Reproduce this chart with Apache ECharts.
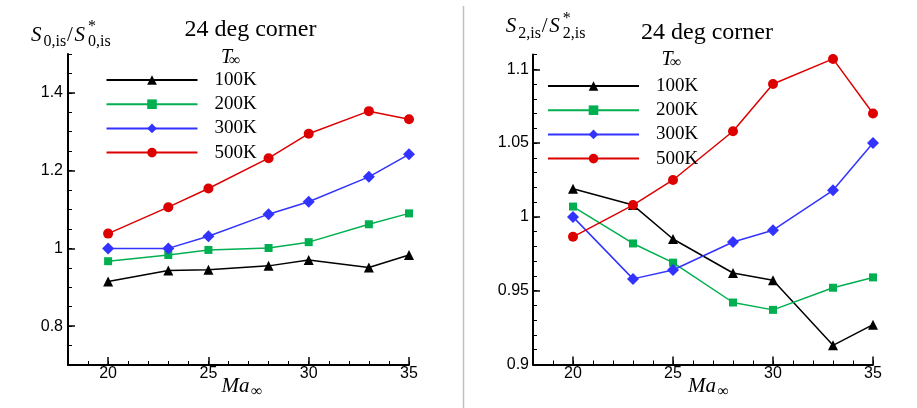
<!DOCTYPE html>
<html>
<head>
<meta charset="utf-8">
<script src="https://cdn.jsdelivr.net/npm/echarts@6/dist/echarts.min.js"></script>
<style>
  html, body { margin: 0; padding: 0; background: #fff; }
  #main { width: 917px; height: 408px; }
</style>
</head>
<body>
<div id="main"></div>
<script>
// Mach numbers (x axis)
var machNumbers = [20, 23, 25, 28, 30, 33, 35];
var tempLabels = ['100K', '200K', '300K', '500K'];

// left chart: S0,is / S*0,is
var s0_100K = [0.915, 0.943, 0.945, 0.955, 0.970, 0.951, 0.983];
var s0_200K = [0.967, 0.983, 0.996, 1.001, 1.016, 1.062, 1.090];
var s0_300K = [1.000, 1.000, 1.031, 1.088, 1.120, 1.184, 1.242];
var s0_500K = [1.038, 1.106, 1.154, 1.232, 1.295, 1.353, 1.332];

// right chart: S2,is / S*2,is
var s2_100K = [1.019, 1.008, 0.985, 0.962, 0.957, 0.913, 0.927];
var s2_200K = [1.007, 0.982, 0.969, 0.942, 0.937, 0.952, 0.959];
var s2_300K = [1.000, 0.958, 0.964, 0.983, 0.991, 1.018, 1.050];
var s2_500K = [0.9865, 1.008, 1.025, 1.058, 1.090, 1.107, 1.070];

// tick labels
var xTickValues = [20, 25, 30, 35];
var s0TickValues = [0.8, 1, 1.2, 1.4];
var s2TickValues = [0.9, 0.95, 1, 1.05, 1.1];

var lineColors = ['#000000', '#00b050', '#3333ff', '#dd0000'];
var markerShapes = ['triangle', 'rect', 'diamond', 'circle'];
var markerSizes = [10, 8, 12, 10];

var SERIF = '"Liberation Serif", "Times New Roman", serif';
var SANS = '"Liberation Sans", Arial, sans-serif';

function minorX(grid) {
	return {
		type: 'value', gridIndex: grid, min: 18, max: 35, interval: 1,
		axisLine: {lineStyle: {color: '#000', width: 2}},
		axisTick: {inside: true, length: 4, lineStyle: {color: '#000', width: 1}},
		axisLabel: {customValues: xTickValues, margin: 1, color: '#000', fontFamily: SANS, fontSize: 16},
		splitLine: {show: false}
	};
}
function majorX(grid) {
	return {
		type: 'value', gridIndex: grid, position: 'bottom', min: 18, max: 35,
		axisLine: {show: false},
		axisTick: {inside: true, length: 8, customValues: xTickValues, lineStyle: {color: '#000', width: 1.5}},
		axisLabel: {show: false},
		splitLine: {show: false}
	};
}
function minorY(grid, min, max, step, labels, margin) {
	return {
		type: 'value', gridIndex: grid, min: min, max: max, interval: step,
		axisLine: {show: true, lineStyle: {color: '#000', width: 2}},
		axisTick: {show: true, inside: true, length: 4, lineStyle: {color: '#000', width: 1}},
		axisLabel: {customValues: labels, margin: margin, color: '#000', fontFamily: SANS, fontSize: 16},
		splitLine: {show: false}
	};
}
function majorY(grid, min, max, labels) {
	return {
		type: 'value', gridIndex: grid, position: 'left', min: min, max: max,
		axisLine: {show: false},
		axisTick: {show: true, inside: true, length: 7, customValues: labels, lineStyle: {color: '#000', width: 1.5}},
		axisLabel: {show: false},
		splitLine: {show: false}
	};
}

function makeSeries(chart, valueSets) {
	var out = [];
	for (var i = 0; i < valueSets.length; i++) {
		var vals = valueSets[i];
		out.push({
			name: tempLabels[i],
			type: 'line',
			xAxisIndex: chart * 2,
			yAxisIndex: chart * 2,
			data: machNumbers.map(function (m, k) { return [m, vals[k]]; }),
			symbol: markerShapes[i],
			symbolSize: markerSizes[i],
			itemStyle: {color: lineColors[i]},
			lineStyle: {color: lineColors[i], width: 1.5},
			z: 3
		});
	}
	return out;
}

//text piece for graphic, y = middle of the em box
function txt(x, y, text, size, italic, align) {
	return {
		type: 'text',
		style: {
			x: x, y: y, text: text,
			font: (italic ? 'italic ' : '') + size + 'px ' + SERIF,
			fill: '#000',
			align: align || 'left', textAlign: align || 'left',
			verticalAlign: 'middle', textVerticalAlign: 'middle'
		}
	};
}
// S_{n,is}/S*_{n,is}
function ratioName(x, y, sub) {
	return [
		txt(x, y, 'S', 21, true),
		txt(x + 12.5, y + 6.7, sub, 16, false),
		txt(x + 36, y, '/', 21, false),
		txt(x + 43.5, y, 'S', 21, true),
		txt(x + 57, y - 8.5, '*', 16, false),
		txt(x + 57, y + 6.7, sub, 16, false)
	];
}

var legendBase = {
	orient: 'vertical',
	data: tempLabels,
	padding: 0,
	itemWidth: 91,
	itemHeight: 12,
	itemGap: 5.2,
	textStyle: {fontFamily: SERIF, fontSize: 19, color: '#000', padding: [0, 0, 0, 12]}
};

var myChart = echarts.init(document.getElementById('main'), null, {renderer: 'canvas'});
var option = {
	animation: false,
	backgroundColor: '#fff',
	grid: [
		{left: 68, top: 54, width: 341, height: 311},
		{left: 533, top: 54.5, width: 340, height: 310}
	],
	xAxis: [minorX(0), majorX(0), minorX(1), majorX(1)],
	yAxis: [
		minorY(0, 0.7, 1.5, 0.05, s0TickValues, 5),
		majorY(0, 0.7, 1.5, s0TickValues),
		minorY(1, 0.9, 1.11, 0.01, s2TickValues, 4),
		majorY(1, 0.9, 1.11, s2TickValues)
	],
	legend: [
		Object.assign({left: 105.5, top: 70.5}, legendBase),
		Object.assign({left: 547, top: 76.5}, legendBase)
	],
	series: makeSeries(0, [s0_100K, s0_200K, s0_300K, s0_500K])
		.concat(makeSeries(1, [s2_100K, s2_200K, s2_300K, s2_500K])),
	graphic: [
		{type: 'line', shape: {x1: 463.5, y1: 6, x2: 463.5, y2: 408}, style: {stroke: '#c0c0c0', lineWidth: 1.5}},
		txt(250.5, 29.7, '24 deg corner', 24, false, 'center'),
		txt(707, 33, '24 deg corner', 24, false, 'center'),
		txt(221, 57.7, 'T', 20, true),
		txt(229, 61, '\u221e', 16, false),
		txt(661.5, 60.2, 'T', 20, true),
		txt(670, 63, '\u221e', 16, false),
		txt(221.5, 386.2, 'Ma', 21, true),
		txt(251, 392.2, '\u221e', 16, false),
		txt(688, 386.2, 'Ma', 21, true),
		txt(717.5, 392.2, '\u221e', 16, false)
	].concat(ratioName(31, 35.4, '0,is'), ratioName(505.7, 26.9, '2,is'))
};
myChart.setOption(option);
</script>
</body>
</html>
